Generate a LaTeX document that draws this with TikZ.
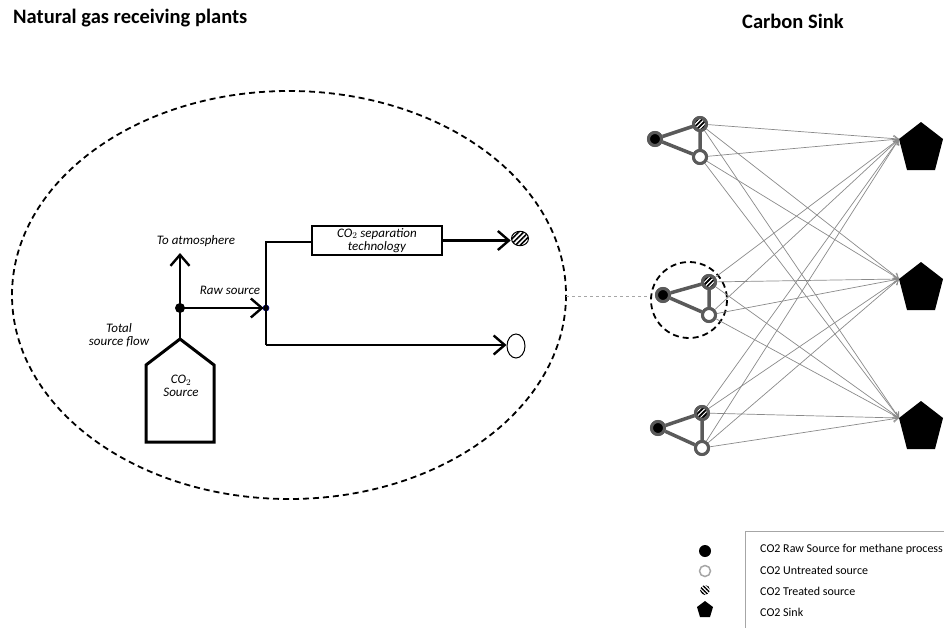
\documentclass[tikz,border=0pt]{standalone}
\usepackage{fontspec}
\setmainfont{Carlito}
\usetikzlibrary{arrows.meta,patterns.meta,shapes.geometric}
\definecolor{nodegray}{HTML}{5A5A5A}
\definecolor{linkgray}{HTML}{8A8A8A}
\tikzset{
  flow/.style={line width=2.6pt,-{Straight Barb[length=11pt,width=19pt,line width=2.4pt]}},
  plain/.style={line width=2.6pt},
  lbl/.style={font=\fontsize{13}{13.5}\selectfont\itshape, inner sep=0pt, align=center},
  title/.style={font=\fontsize{20.5}{24}\selectfont\bfseries, inner sep=0pt},
  raw/.style={circle, draw=nodegray, fill=black, line width=3pt, minimum size=13pt, inner sep=0pt},
  untreated/.style={circle, draw=nodegray, fill=white, line width=3pt, minimum size=13pt, inner sep=0pt},
  treated/.style={circle, draw=nodegray, line width=3pt, minimum size=13pt, inner sep=0pt,
     pattern={Lines[angle=45,distance=3.2pt,line width=1.5pt]}},
  link/.style={draw=nodegray, line width=3.5pt},
  sinkline/.style={draw=linkgray, line width=0.7pt, -{Straight Barb[length=5pt,width=7pt,line width=0.7pt]}},
  legtext/.style={font=\fontsize{12}{14}\selectfont, anchor=west, inner sep=0pt},
}
\begin{document}
\begin{tikzpicture}[x=1pt,y=-1pt]
\useasboundingbox (0,0) rectangle (944,627);
% titles
\node[title, anchor=base west] (t1) at (13,23) {Natural gas receiving plants};
\node[title, anchor=base west] (t2) at (742,28) {Carbon Sink};
% big ellipse
\draw[dashed, dash pattern=on 6pt off 4pt, line width=1.8pt] (289,295) ellipse [x radius=277, y radius=204];
\coordinate (eR) at (566,296);
% house (CO2 source)
\draw[line width=3pt, line join=miter] (146,442) -- (146,365) -- (180,339) -- (214,365) -- (214,442) -- cycle;
\coordinate (apex) at (180,339);
\node[lbl] (src) at (181,386) {CO$_2$\\Source};
% junctions
\node[circle, fill=black, minimum size=10pt, inner sep=0pt] (j1) at (180,308) {};
\node[circle, fill=black, draw=blue!50!black, line width=0.6pt, minimum size=6pt, inner sep=0pt] (j2) at (266,308) {};
\coordinate (atm) at (180,253);
\draw[flow] (apex) -- (j1.center) -- (atm);
\draw[flow, shorten >=-1pt] (j1.center) -- (j2.west);
% separation box
\node[draw, line width=2.2pt, minimum width=130pt, minimum height=29pt, inner sep=0pt, lbl] (box) at (377,240.5) {CO$_2$ separation\\technology};
\node[circle, draw=black, line width=1pt, minimum size=17pt, inner sep=0pt, yscale=0.85,
      pattern={Lines[angle=45,distance=3.5pt,line width=1.6pt]}] (hL) at (520,238.5) {};
\node[ellipse, draw=black, line width=1pt, minimum width=18pt, minimum height=24pt, inner sep=0pt] (oL) at (516,346) {};
\coordinate (jt) at (266,242);
\coordinate (jb) at (266,345);
\draw[plain] (box.west |- jt) -- (jt) -- (j2.center) -- (jb);
\draw[flow] (jb) -- (oL.west |- jb);
\draw[flow] (box.east) -- (hL.west |- box.east);
% labels
\node[lbl] (la) at (196,241) {To atmosphere};
\node[lbl] (lr) at (230,290) {Raw source};
\node[lbl] (lt) at (119,335) {Total\\source flow};
% link to middle cluster
\draw[dashed, draw=gray!70, line width=0.8pt] (eR) -- (652,296);
% clusters
\node[raw] (rA) at (655,139) {};
\node[treated] (hA) at (700,124) {};
\node[untreated] (oA) at (700,157) {};
\node[raw] (rB) at (663,295) {};
\node[treated] (hB) at (709,282) {};
\node[untreated] (oB) at (709,315) {};
\node[raw] (rC) at (658,428) {};
\node[treated] (hC) at (702,413) {};
\node[untreated] (oC) at (702,448) {};
\draw[dashed, dash pattern=on 6pt off 4pt, line width=1.8pt] (689,300) circle [radius=38];
% sinks
\foreach \n/\ty in {1/122, 2/262, 3/401}{
  \fill (921,\ty) -- (943,\ty+17) -- (935,\ty+48) -- (907,\ty+48) -- (899,\ty+17) -- cycle;
  \coordinate (s\n) at (899,\ty+17);
}
\foreach \s in {hA,oA,hB,oB,hC,oC}{
  \foreach \t in {s1,s2,s3}{
    \draw[sinkline] (\s) -- (\t);
  }
}
% cluster links drawn over
\foreach \c in {A,B,C}{
  \draw[link] (r\c) -- (h\c) -- (o\c) -- (r\c);
  \node[raw] at (r\c) {};
  \node[treated] at (h\c) {};
  \node[untreated] at (o\c) {};
}
% legend
\draw[draw=gray!70, line width=0.8pt] (745,640) -- (745,531) -- (950,531);
\node[circle, fill=black, minimum size=12pt, inner sep=0pt] (k1) at (705,551) {};
\node[circle, draw=gray!70, line width=1.5pt, minimum size=11pt, inner sep=0pt] (k2) at (705,571) {};
\node[circle, minimum size=10pt, inner sep=0pt, pattern={Lines[angle=-45,distance=2.8pt,line width=1.4pt]}] (k3) at (705,590) {};
\fill (705,601) -- (713,607) -- (710,617) -- (700,617) -- (697,607) -- cycle;
\node[legtext] (g1) at (760,549) {CO2 Raw Source for methane process};
\node[legtext] (g2) at (760,570) {CO2 Untreated source};
\node[legtext] (g3) at (760,591) {CO2 Treated source};
\node[legtext] (g4) at (760,612) {CO2 Sink};
\end{tikzpicture}
\end{document}
